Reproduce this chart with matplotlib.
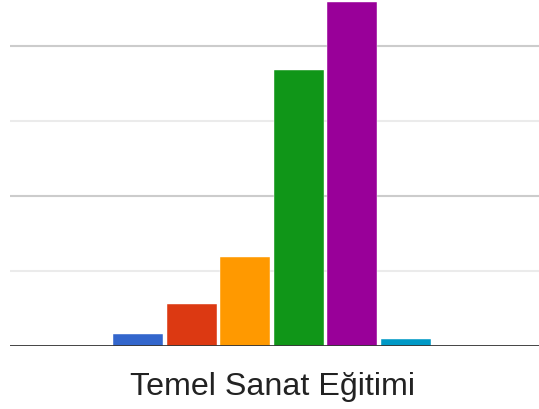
import matplotlib
matplotlib.use("Agg")
import matplotlib.pyplot as plt

# one category, six series (Google-chart style column chart)
category = "Temel Sanat Eğitimi"
series_names = ["1", "2", "3", "4", "5", "6"]
series_values = [0.157, 0.56, 1.18, 3.68, 4.58, 0.085]
series_colors = ["#3366cc", "#dc3912", "#ff9900", "#109618", "#990099", "#0099c6"]

grid_major = [2, 4]
grid_minor = [1, 3]

fig = plt.figure(figsize=(5.39, 4.10), dpi=100)
ax = fig.add_axes([10 / 539, (410 - 346.5) / 410, 529 / 539, 346.5 / 410])

for y in grid_minor:
    ax.axhline(y, color="#ebebeb", linewidth=1.5, zorder=0)
for y in grid_major:
    ax.axhline(y, color="#cccccc", linewidth=1.5, zorder=0)

x = list(range(len(series_values)))
ax.bar(x, series_values, width=0.935, color=series_colors,
       edgecolor="white", linewidth=0.3, zorder=2)
ax.axhline(0, color="#333333", linewidth=2.0, zorder=3)

ax.set_xlim(-2.393, 7.495)
ax.set_ylim(0, 4.62)
ax.set_xticks([])
ax.set_yticks([])
for s in ax.spines.values():
    s.set_visible(False)

fig.text(272.5 / 539, 1 - 395 / 410, category, ha="center", va="baseline",
         fontsize=23.2, family="Liberation Sans", color="#222222")

fig.savefig("out.png", dpi=100)
